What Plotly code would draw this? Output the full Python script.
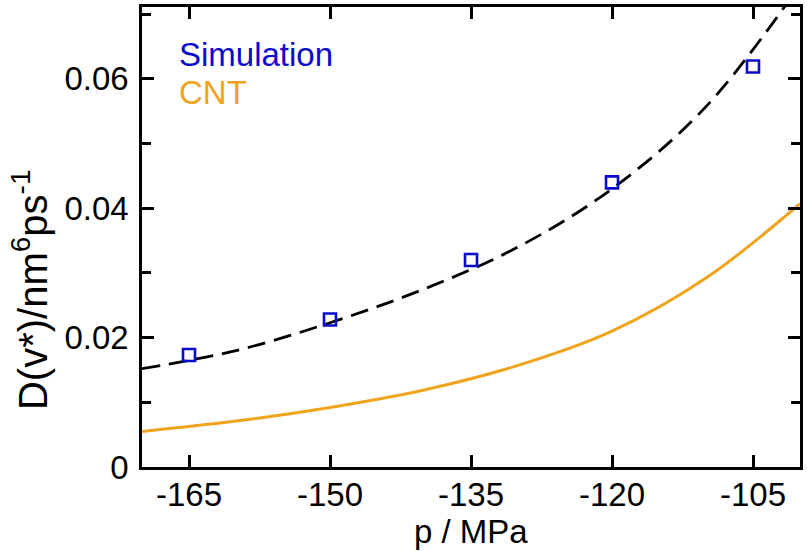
import plotly.graph_objects as go

# Simulation data (open squares)
sim_p = [-165, -150, -135, -120, -105]
sim_d = [0.0173, 0.0228, 0.0320, 0.0440, 0.0619]

# Fitted curve (dashed)
fit_p = [-170, -160, -150, -140, -130, -120, -110, -100]
fit_d = [0.0152, 0.0180, 0.0223, 0.0275, 0.0340, 0.0430, 0.0557, 0.0745]

# CNT curve (solid orange)
cnt_p = [-170, -160, -150, -140, -130, -120, -110, -100]
cnt_d = [0.0055, 0.0071, 0.0092, 0.0119, 0.0157, 0.0210, 0.0292, 0.0407]

x_ticks = [-165, -150, -135, -120, -105]
y_ticks = [0, 0.02, 0.04, 0.06]
y_tick_labels = ["0", "0.02", "0.04", "0.06"]
y_minor = [0.01, 0.03, 0.05, 0.07]

BLUE = "#0a0acc"
ORANGE = "#f0a41c"
FONT = "Liberation Sans, Arial, Helvetica, sans-serif"

fig = go.Figure()
fig.add_trace(go.Scatter(x=cnt_p, y=cnt_d, mode="lines",
                         line=dict(color=ORANGE, width=3, shape="spline", smoothing=1.0),
                         showlegend=False, name="CNT"))
fig.add_trace(go.Scatter(x=fit_p, y=fit_d, mode="lines",
                         line=dict(color="black", width=2.8, dash="18px,9px", shape="spline", smoothing=1.0),
                         showlegend=False, name="fit"))
fig.add_trace(go.Scatter(x=sim_p, y=sim_d, mode="markers",
                         marker=dict(symbol="square-open", size=12, color=BLUE, line=dict(width=2.6, color=BLUE)),
                         showlegend=False, name="Simulation"))

fig.add_annotation(x=0.053, y=0.897, xref="paper", yref="paper", xanchor="left", yanchor="middle",
                   text="Simulation", showarrow=False, font=dict(size=33, color=BLUE, family=FONT))
fig.add_annotation(x=0.053, y=0.815, xref="paper", yref="paper", xanchor="left", yanchor="middle",
                   text="CNT", showarrow=False, font=dict(size=33, color=ORANGE, family=FONT))
# axis titles
fig.add_annotation(x=0.5, y=-0.140, xref="paper", yref="paper", xanchor="center", yanchor="middle",
                   text="p / MPa", showarrow=False, font=dict(size=33, color="black", family=FONT))
fig.add_annotation(x=-0.170, y=0.385, xref="paper", yref="paper", xanchor="center", yanchor="middle",
                   textangle=-90, text="D(v*)/nm<sup>6</sup>ps<sup>-1</sup>", showarrow=False,
                   font=dict(size=40, color="black", family=FONT))

fig.update_layout(
    width=807, height=551,
    margin=dict(l=142, r=7, t=4, b=84, pad=0),
    paper_bgcolor="white", plot_bgcolor="white",
    font=dict(family=FONT, size=33, color="black"),
    xaxis=dict(range=[-170, -100], tickvals=x_ticks, ticktext=[str(v) for v in x_ticks],
               ticks="inside", ticklen=12, tickwidth=2.5, tickcolor="black",
               showline=True, linewidth=2.5, linecolor="black", mirror="ticks",
               showgrid=False, zeroline=False, ticklabelstandoff=-3),
    yaxis=dict(range=[0, 0.0711], tickvals=y_ticks, ticktext=y_tick_labels,
               ticks="inside", ticklen=12, tickwidth=2.5, tickcolor="black",
               showline=True, linewidth=2.5, linecolor="black", mirror="ticks",
               showgrid=False, zeroline=False,
               minor=dict(tickvals=y_minor, ticks="inside", ticklen=9, tickwidth=2.5, tickcolor="black"),
               ticklabelstandoff=4),
)

fig.write_html("out.html", config={"displayModeBar": False},
               post_script="document.body.style.margin='0px';")
